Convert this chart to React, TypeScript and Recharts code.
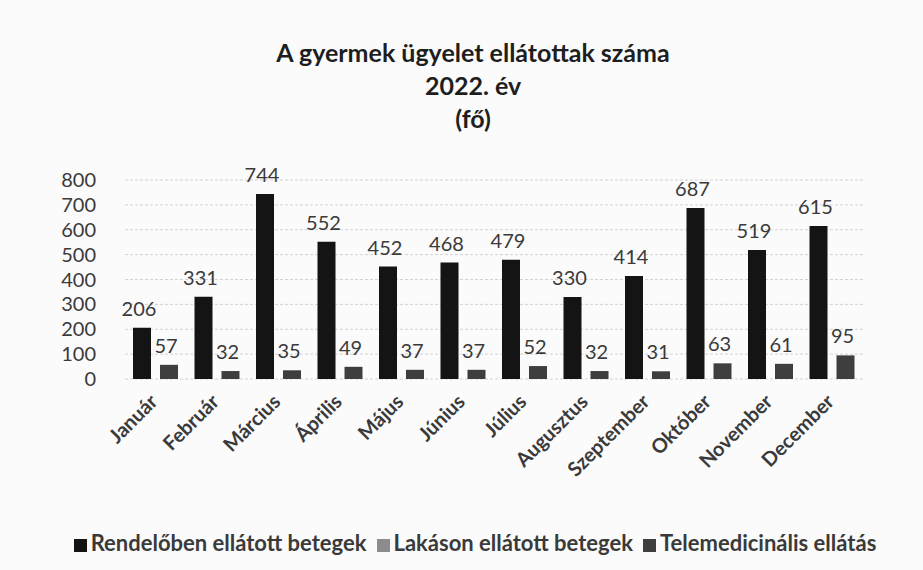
import React from "react";
import { BarChart, Bar, XAxis, YAxis, CartesianGrid, Legend, LabelList } from "recharts";

const months = ["Január", "Február", "Március", "Április", "Május", "Június", "Július", "Augusztus", "Szeptember", "Október", "November", "December"];
const rendeloben = [206, 331, 744, 552, 452, 468, 479, 330, 414, 687, 519, 615];
const lakason = [0, 0, 0, 0, 0, 0, 0, 0, 0, 0, 0, 0];
const telemedicina = [57, 32, 35, 49, 37, 37, 52, 32, 31, 63, 61, 95];
const yTicks = [0, 100, 200, 300, 400, 500, 600, 700, 800];
const titleLines = ["A gyermek ügyelet ellátottak száma", "2022. év", "(fő)"];
const seriesOrder = ["Rendelőben ellátott betegek", "Lakáson ellátott betegek", "Telemedicinális ellátás"];

const data = months.map((m, i) => ({
  month: m,
  rendeloben: rendeloben[i],
  lakason: lakason[i],
  telemedicina: telemedicina[i],
}));

const FONT = "Lato, 'Open Sans', sans-serif";

const MonthTick = (props: any) => {
  const { x, y, payload } = props;
  const ax = x + 3;
  const ay = y + 16;
  return (
    <text
      x={ax}
      y={ay}
      transform={`rotate(-45, ${ax}, ${ay})`}
      textAnchor="end"
      fontFamily={FONT}
      fontSize={20}
      fontWeight={700}
      fill="#3a3a3a"
    >
      {payload.value}
    </text>
  );
};

export default function App() {
  return (
    <div style={{ position: "absolute", left: 0, top: 0, width: 923, height: 570, background: "#fbfbfb", fontFamily: FONT }}>
      <div style={{ position: "absolute", left: 0, top: 36, width: 946, textAlign: "center", fontSize: 25, fontWeight: 700, color: "#1e1e1e", lineHeight: "33px" }}>
        {titleLines.map((t) => (
          <div key={t}>{t}</div>
        ))}
      </div>
      <BarChart
        width={923}
        height={570}
        data={data}
        margin={{ top: 180, right: 60, left: 0, bottom: 0 }}
        barGap={0}
        barCategoryGap={8}
      >
        <CartesianGrid vertical={false} stroke="#d2d2d2" strokeDasharray="3 2" />
        <XAxis
          dataKey="month"
          axisLine={false}
          tickLine={false}
          interval={0}
          height={164}
          tick={<MonthTick />}
        />
        <YAxis
          width={125}
          domain={[0, 800]}
          ticks={yTicks}
          interval={0}
          axisLine={false}
          tickLine={false}
          tickSize={0}
          tickMargin={29}
          tick={{ fontFamily: FONT, fontSize: 20, fill: "#3a3a3a" }}
        />
        <Legend
          verticalAlign="bottom"
          iconType="square"
          iconSize={13}
          itemSorter={(item: any) => seriesOrder.indexOf(item.value)}
          wrapperStyle={{ bottom: 14, left: 0, width: 960, fontFamily: FONT, fontSize: 22, fontWeight: 700 }}
          formatter={(value: string) => <span style={{ color: "#3a3a3a" }}>{value}</span>}
        />
        <Bar dataKey="rendeloben" name="Rendelőben ellátott betegek" fill="#141414" barSize={18} isAnimationActive={false}>
          <LabelList dataKey="rendeloben" position="top" offset={12} dx={-3} style={{ fontFamily: FONT, fontSize: 20, fill: "#3a3a3a" }} />
        </Bar>
        <Bar dataKey="lakason" name="Lakáson ellátott betegek" fill="#8c8c8c" barSize={9} isAnimationActive={false} />
        <Bar dataKey="telemedicina" name="Telemedicinális ellátás" fill="#3e3e3e" barSize={18} isAnimationActive={false}>
          <LabelList dataKey="telemedicina" position="top" offset={12} dx={-3} style={{ fontFamily: FONT, fontSize: 20, fill: "#3a3a3a" }} />
        </Bar>
      </BarChart>
    </div>
  );
}
